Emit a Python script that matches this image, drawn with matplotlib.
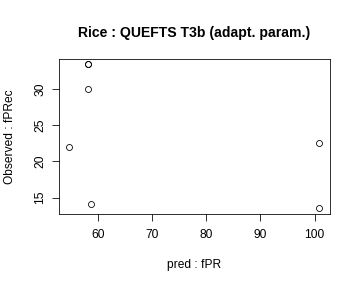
import matplotlib
matplotlib.use("Agg")
import matplotlib.pyplot as plt

plt.rcParams['font.family'] = ['Liberation Sans', 'DejaVu Sans']

pred_fpr = [58.2, 58.2, 58.2, 54.6, 58.7, 100.8, 100.8]
obs_fprec = [33.4, 33.4, 30.0, 22.0, 14.1, 22.5, 13.5]
x_ticks = [60, 70, 80, 90, 100]
y_ticks = [15, 20, 25, 30]

fig = plt.figure(figsize=(5, 4), dpi=72)
ax = fig.add_axes([59/360, 1 - 214/288, 271/360, 155/288])

ax.plot(pred_fpr, obs_fprec, 'o', mfc='none', mec='black', ms=6, mew=0.8)

ax.set_xlim(52.75, 102.85)
ax.set_ylim(12.72, 34.15)
ax.set_xticks(x_ticks)
ax.set_yticks(y_ticks)
ax.tick_params(axis='both', direction='out', length=7, width=0.8, labelsize=12, color='black')
ax.tick_params(axis='x', pad=8)
ax.tick_params(axis='y', pad=6)
for lab in ax.get_yticklabels():
    lab.set_rotation(90)
    lab.set_va('center')

for s in ax.spines.values():
    s.set_linewidth(0.8)
    s.set_color('black')

ax.set_xlabel("pred : fPR", fontsize=12)
ax.set_ylabel("Observed : fPRec", fontsize=12)
ax.xaxis.set_label_coords(0.5, -0.29)
ax.yaxis.set_label_coords(-0.16, 0.5)
ax.set_title("Rice : QUEFTS T3b (adapt. param.)", fontsize=14, fontweight='bold', pad=22)

fig.savefig("out.png", dpi=72)
